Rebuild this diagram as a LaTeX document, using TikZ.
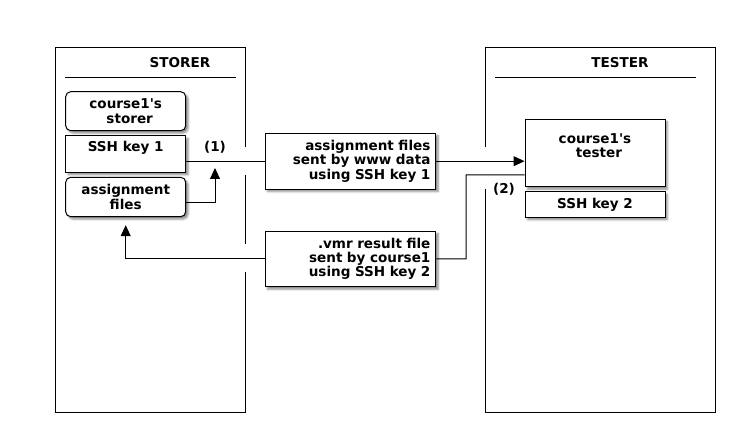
\documentclass[tikz,border=0pt]{standalone}
\usepackage{fontspec}
\setmainfont{DejaVu Sans}
\usetikzlibrary{arrows.meta, shadows.blur}
\tikzset{
  plainbox/.style={
    draw,
    fill=white,
    line width=1bp,
    minimum width=120bp,
    inner sep=4bp,
    align=center,
    blur shadow={shadow xshift=2.5bp, shadow yshift=-2.5bp, shadow blur radius=2bp, shadow opacity=45}},
  roundbox/.style={
    plainbox,
    rounded corners=5bp},
  msgbox/.style={
    plainbox,
    minimum width=170.7bp,
    minimum height=55.7bp,
    text width=160bp,
    align=right},
  frame/.style={
    line width=1bp},
  flow/.style={
    line width=1bp},
  arrowflow/.style={
    flow,
    -{Triangle[length=11bp,width=10bp]}}
}

\begin{document}
\begin{tikzpicture}[x=1bp, y=-1bp, font=\bfseries\fontsize{13.6}{14.4}\selectfont]
  \useasboundingbox (0,0) rectangle (730,448);

  % Storer frame
  \draw[frame] (245,147) -- (245,48) -- (55,48) -- (55,412) -- (245,412) -- (245,272);
  \draw[frame] (245,175) -- (245,244);
  \node (storertitle) at (180,63) {STORER};
  \draw[frame] (65,77.3) -- (235.7,77.3);

  % Tester frame
  \draw[frame] (485,147) -- (485,48) -- (715,48) -- (715,412) -- (485,412) -- (485,189);
  \node (testertitle) at (620,63) {TESTER};
  \draw[frame] (495,77.3) -- (696,77.3);

  % Storer boxes
  \node (storer) [roundbox, minimum height=39bp] at (125.7,111.2) {course1\textquotesingle s\\\hspace{8bp}storer};
  \node (ssh1) [plainbox, minimum height=36.6bp] at (125.7,154) {SSH key 1\\\mbox{}};
  \node (files) [roundbox, minimum height=39.4bp] at (125.7,197) {assignment\\files};

  % Tester boxes
  \node (tester) [plainbox, minimum width=140bp, minimum height=67.4bp] at (595,153) {course1\textquotesingle s\\\hspace{8bp}tester\\\mbox{}};
  \node (ssh2) [plainbox, minimum width=140bp, minimum height=25.6bp] at (595,204.5) {SSH key 2};

  % Messages
  \node (msg1) [msgbox] at (350.4,161.2) {assignment files\\sent by www data\\using SSH key 1};
  \node (msg2) [msgbox] at (350.4,258.9) {.vmr result file\\sent by course1\\using SSH key 2};

  % (1)
  \coordinate (join1) at (215,161.5);
  \draw[flow] (ssh1.east |- msg1.west) -- (msg1.west);
  \draw[arrowflow] (msg1.east) -- (msg1.east -| tester.west);
  \draw[arrowflow] ([yshift=-6bp]files.east) -| ([yshift=-6.5bp]join1);
  \node (label1) at (215,147) {(1)};

  % (2)
  \coordinate (bend2) at (466,175);
  \draw[flow] ([yshift=-22bp]tester.west) -- (bend2) |- (msg2.east);
  \draw[arrowflow] (msg2.west) -| ([yshift=-8bp]files.south);
  \node (label2) at (504,189) {(2)};
\end{tikzpicture}
\end{document}
